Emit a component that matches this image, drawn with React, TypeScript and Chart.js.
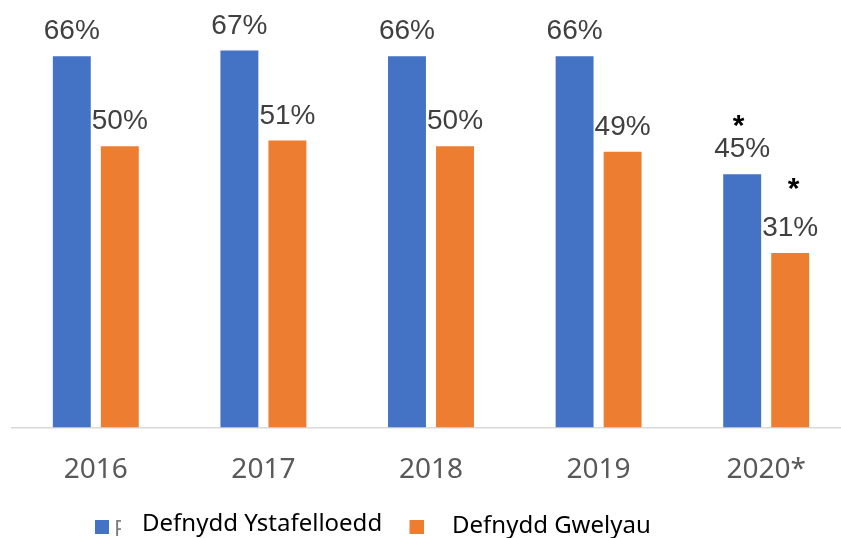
import React, { useEffect, useRef } from "react";
import { Chart, registerables } from "chart.js";

Chart.register(...registerables);

const categories = ["2016", "2017", "2018", "2019", "2020*"];
const roomOccupancy = [66, 67, 66, 66, 45];
const bedOccupancy = [50, 51, 50, 49, 31];
const seriesLabels = ["Defnydd Ystafelloedd", "Defnydd Gwelyau"];
const roomNotes = ["", "", "", "", "*"];
const bedNotes = ["", "", "", "", "*"];

const BLUE = "#4472C4";
const ORANGE = "#ED7D31";

const labelPlugin = {
  id: "valueLabels",
  afterDatasetsDraw(chart: any) {
    const ctx = chart.ctx;
    ctx.save();
    chart.data.datasets.forEach((ds: any, i: number) => {
      const meta = chart.getDatasetMeta(i);
      const notes = i === 0 ? roomNotes : bedNotes;
      meta.data.forEach((bar: any, j: number) => {
        ctx.font = '28px "Liberation Sans", Arial, sans-serif';
        ctx.fillStyle = "#404040";
        ctx.textAlign = "center";
        ctx.textBaseline = "alphabetic";
        ctx.fillText(ds.data[j] + "%", bar.x, bar.y - 17);
        if (notes[j]) {
          ctx.font = 'bold 30px "Liberation Sans", Arial, sans-serif';
          ctx.fillStyle = "#000000";
          if (i === 0) ctx.fillText(notes[j], bar.x - 3.5, bar.y - 39);
          else ctx.fillText(notes[j], bar.x + 3.5, bar.y - 55.5);
        }
      });
    });
    ctx.restore();
  },
};

const legendPlugin = {
  id: "customLegend",
  afterDraw(chart: any) {
    const ctx = chart.ctx;
    ctx.save();
    const ds = chart.data.datasets;
    ctx.fillStyle = ds[0].backgroundColor;
    ctx.fillRect(95, 520, 14, 14);
    ctx.save();
    ctx.beginPath();
    ctx.rect(114, 510, 7, 28);
    ctx.clip();
    ctx.fillStyle = "#7F7F7F";
    ctx.font = '22px "Noto Sans", sans-serif';
    ctx.textAlign = "left";
    ctx.fillText("P", 114, 536);
    ctx.restore();
    ctx.fillStyle = "#000000";
    ctx.font = '24px "Noto Sans", sans-serif';
    ctx.textAlign = "left";
    ctx.textBaseline = "alphabetic";
    ctx.fillText(ds[0].label, 142, 531);
    ctx.fillStyle = ds[1].backgroundColor;
    ctx.fillRect(409.5, 520, 14.5, 14);
    ctx.fillStyle = "#000000";
    ctx.fillText(ds[1].label, 452, 533);
    ctx.restore();
  },
};

export default function App() {
  const ref = useRef<HTMLCanvasElement | null>(null);
  useEffect(() => {
    if (!ref.current) return;
    const chart = new Chart(ref.current, {
      type: "bar",
      data: {
        labels: categories,
        datasets: [
          {
            label: seriesLabels[0],
            data: roomOccupancy,
            backgroundColor: BLUE,
            categoryPercentage: 0.573,
            barPercentage: 0.79,
          },
          {
            label: seriesLabels[1],
            data: bedOccupancy,
            backgroundColor: ORANGE,
            categoryPercentage: 0.573,
            barPercentage: 0.79,
          },
        ],
      },
      options: {
        responsive: false,
        animation: false,
        devicePixelRatio: 1,
        layout: { padding: { left: 12, right: 0, top: 0, bottom: 25 } },
        plugins: {
          legend: { display: false },
          tooltip: { enabled: false },
        },
        scales: {
          x: {
            grid: { display: false, drawTicks: false },
            border: { display: true, color: "#D9D9D9", width: 1.5 },
            ticks: {
              color: "#595959",
              font: { family: '"Noto Sans", sans-serif', size: 28 },
              padding: 26,
            },
          },
          y: {
            display: false,
            min: 0,
            max: 76,
          },
        },
      },
      plugins: [labelPlugin, legendPlugin],
    });
    return () => chart.destroy();
  }, []);
  return (
    <div
      style={{
        position: "fixed",
        left: 0,
        top: 0,
        width: 841,
        height: 538,
        overflow: "hidden",
        background: "#ffffff",
      }}
    >
      <canvas ref={ref} width={850} height={538} style={{ display: "block" }} />
    </div>
  );
}
